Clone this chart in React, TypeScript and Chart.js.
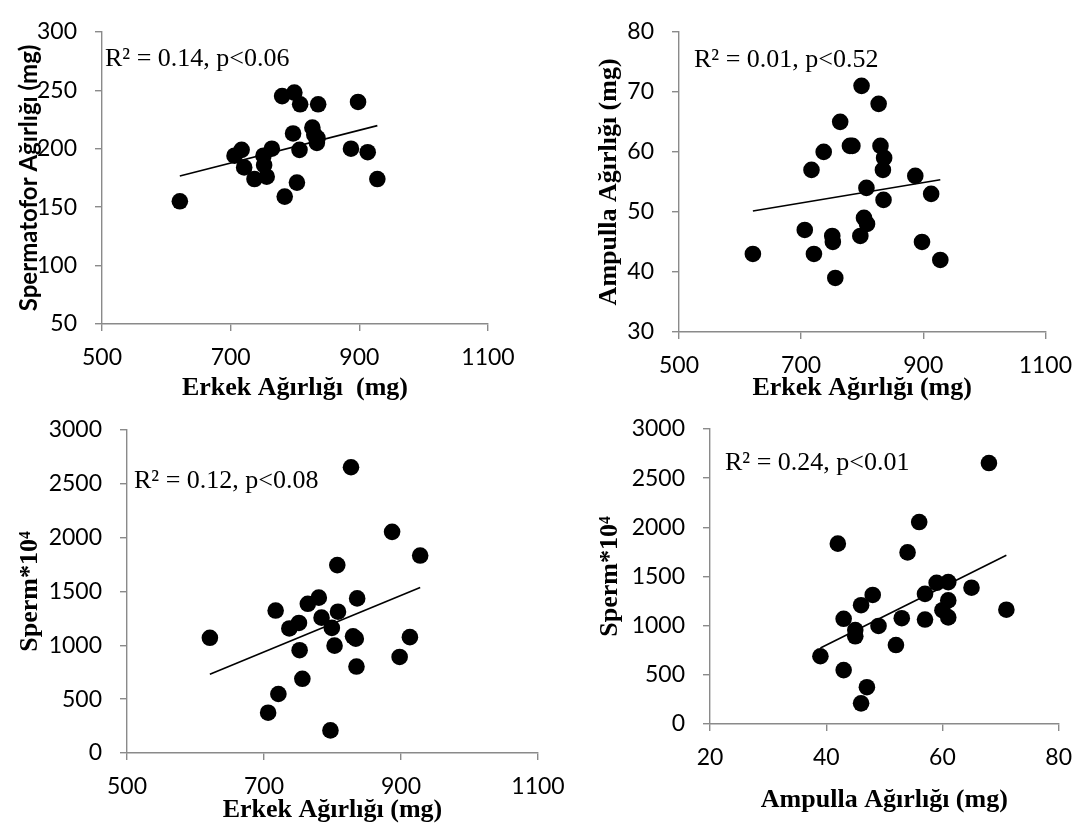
import { useEffect, useRef } from "react";
import { Chart, registerables } from "chart.js";

Chart.register(...registerables);

const W = 1085;
const H = 836;

// One entry per male, ordered by body weight
const erkekAgirligi = [
  621, 706, 717, 721, 737, 751, 752, 756, 764, 780, 784, 797, 799, 803, 807, 808, 827, 830, 834, 835, 836, 887, 898, 913, 928,
];
const spermatoforAgirligi = [
  155, 194, 199, 184, 174, 194, 186, 176, 200, 245, 159, 213, 248, 171, 199, 238, 218, 212, 205, 209, 238, 200, 240, 197, 174,
];
const ampullaAgirligi = [
  43, 47, 57, 43, 60, 46, 45, 39, 65, 61, 61, 46, 71, 49, 54, 48, 68, 61, 57, 52, 59, 56, 45, 53, 42,
];
const spermSayisi = [
  1070, 374, 1323, 548, 1157, 1208, 955, 689, 1386, 1443, 1257, 210, 1162, 997, 1745, 1312, 2654, 1084, 1062, 803, 1436, 2054, 892, 1076, 1834,
];

const notes = [
  "R\u00B2 = 0.14, p<0.06",
  "R\u00B2 = 0.01, p<0.52",
  "R\u00B2 = 0.12, p<0.08",
  "R\u00B2 = 0.24, p<0.01",
];

const erkekTicks = { min: 500, max: 1100, step: 200 };
const ampullaTicks = { min: 20, max: 80, step: 20 };
const spermatoforTicks = { min: 50, max: 300, step: 50 };
const ampullaYTicks = { min: 30, max: 80, step: 10 };
const spermTicks = { min: 0, max: 3000, step: 500 };

const AXIS = "#8a8a8a";
const TICK_FONT = { family: "Lato, 'Open Sans', sans-serif", size: 23 };
const SERIF = "'Liberation Serif', 'Times New Roman', serif";

type Area = { left: number; top: number; right: number; bottom: number };

type PanelSpec = {
  xs: number[];
  ys: number[];
  xt: { min: number; max: number; step: number };
  yt: { min: number; max: number; step: number };
  area: Area;
  xTitle: string;
  yTitle: string;
  yTitleFont: string;
  xTitleBaseline: number;
  yTitleBaseline: number;
  note: string;
  noteX: number;
  noteBaseline: number;
};

const panels: PanelSpec[] = [
  {
    xs: erkekAgirligi,
    ys: spermatoforAgirligi,
    xt: erkekTicks,
    yt: spermatoforTicks,
    area: { left: 102, top: 18, right: 488, bottom: 324 },
    xTitle: "Erkek Ağırlığı  (mg)",
    yTitle: "Spermatofor Ağırlığı (mg)",
    yTitleFont: "bold 24px Lato, 'Open Sans', sans-serif",
    xTitleBaseline: 395,
    yTitleBaseline: 37,
    note: notes[0],
    noteX: 105,
    noteBaseline: 66,
  },
  {
    xs: erkekAgirligi,
    ys: ampullaAgirligi,
    xt: erkekTicks,
    yt: ampullaYTicks,
    area: { left: 679, top: 15, right: 1048, bottom: 332 },
    xTitle: "Erkek Ağırlığı (mg)",
    yTitle: "Ampulla Ağırlığı (mg)",
    yTitleFont: `bold 26px ${SERIF}`,
    xTitleBaseline: 395,
    yTitleBaseline: 616,
    note: notes[1],
    noteX: 694,
    noteBaseline: 67,
  },
  {
    xs: erkekAgirligi,
    ys: spermSayisi,
    xt: erkekTicks,
    yt: spermTicks,
    area: { left: 127, top: 430, right: 538, bottom: 753 },
    xTitle: "Erkek Ağırlığı (mg)",
    yTitle: "Sperm*10\u2074",
    yTitleFont: `bold 26px ${SERIF}`,
    xTitleBaseline: 817,
    yTitleBaseline: 37,
    note: notes[2],
    noteX: 134,
    noteBaseline: 488,
  },
  {
    xs: ampullaAgirligi,
    ys: spermSayisi,
    xt: ampullaTicks,
    yt: spermTicks,
    area: { left: 710, top: 429, right: 1063, bottom: 724 },
    xTitle: "Ampulla Ağırlığı (mg)",
    yTitle: "Sperm*10\u2074",
    yTitleFont: `bold 26px ${SERIF}`,
    xTitleBaseline: 807,
    yTitleBaseline: 617,
    note: notes[3],
    noteX: 725,
    noteBaseline: 470,
  },
];

// Least-squares line drawn across the observed x range
function trendLine(xs: number[], ys: number[]) {
  const n = xs.length;
  const mx = xs.reduce((a, b) => a + b, 0) / n;
  const my = ys.reduce((a, b) => a + b, 0) / n;
  let sxy = 0;
  let sxx = 0;
  for (let i = 0; i < n; i++) {
    sxy += (xs[i] - mx) * (ys[i] - my);
    sxx += (xs[i] - mx) * (xs[i] - mx);
  }
  const b = sxy / sxx;
  const a = my - b * mx;
  const x0 = Math.min(...xs);
  const x1 = Math.max(...xs);
  return [
    { x: x0, y: a + b * x0 },
    { x: x1, y: a + b * x1 },
  ];
}

const plainNumber = (v: number | string) => String(v);

const panelText = {
  id: "panelText",
  beforeDatasetsDraw(chart: any, _args: any, opts: any) {
    const ctx = chart.ctx as CanvasRenderingContext2D;
    ctx.save();
    ctx.fillStyle = "#000";
    ctx.font = `26px ${SERIF}`;
    ctx.textAlign = "left";
    ctx.textBaseline = "alphabetic";
    ctx.fillText(opts.note, opts.noteX, opts.noteBaseline);
    ctx.restore();
  },
  afterDraw(chart: any, _args: any, opts: any) {
    const ctx = chart.ctx as CanvasRenderingContext2D;
    const ca = chart.chartArea;
    ctx.save();
    ctx.fillStyle = "#000";
    ctx.textAlign = "center";
    ctx.textBaseline = "alphabetic";
    ctx.font = `bold 26px ${SERIF}`;
    ctx.fillText(opts.xTitle, (ca.left + ca.right) / 2, opts.xTitleBaseline);
    ctx.translate(opts.yTitleBaseline, (ca.top + ca.bottom) / 2);
    ctx.rotate(-Math.PI / 2);
    ctx.font = opts.yTitleFont;
    ctx.fillText(opts.yTitle, 0, 0);
    ctx.restore();
  },
};

function ScatterPanel({ spec }: { spec: PanelSpec }) {
  const ref = useRef<HTMLCanvasElement>(null);

  useEffect(() => {
    if (!ref.current) return;
    const { area } = spec;
    const points = spec.xs.map((x, i) => ({ x, y: spec.ys[i] }));
    const chart = new Chart(ref.current, {
      type: "scatter",
      data: {
        datasets: [
          {
            data: points,
            backgroundColor: "#000",
            borderWidth: 0,
            pointRadius: 8.3,
            pointHoverRadius: 8.3,
            order: 1,
          },
          {
            data: trendLine(spec.xs, spec.ys),
            showLine: true,
            borderColor: "#000",
            borderWidth: 1.6,
            pointRadius: 0,
            fill: false,
            order: 2,
          } as any,
        ],
      },
      options: {
        animation: false,
        responsive: false,
        devicePixelRatio: 1,
        events: [],
        layout: {
          padding: { left: 0, top: area.top, right: W - area.right, bottom: 0 },
        },
        plugins: {
          legend: { display: false },
          tooltip: { enabled: false },
          panelText: {
            note: spec.note,
            noteX: spec.noteX,
            noteBaseline: spec.noteBaseline,
            xTitle: spec.xTitle,
            yTitle: spec.yTitle,
            yTitleFont: spec.yTitleFont,
            xTitleBaseline: spec.xTitleBaseline,
            yTitleBaseline: spec.yTitleBaseline,
          },
        } as any,
        scales: {
          x: {
            type: "linear",
            min: spec.xt.min,
            max: spec.xt.max,
            ticks: {
              stepSize: spec.xt.step,
              font: TICK_FONT,
              color: "#000",
              padding: 13,
              maxRotation: 0,
              autoSkip: false,
              callback: plainNumber,
            },
            grid: {
              drawOnChartArea: false,
              drawTicks: true,
              tickLength: 7,
              color: AXIS,
              lineWidth: 1.4,
            },
            border: { display: true, color: AXIS, width: 1.4 },
            afterFit(scale: any) {
              scale.height = H - area.bottom;
            },
          },
          y: {
            type: "linear",
            min: spec.yt.min,
            max: spec.yt.max,
            ticks: {
              stepSize: spec.yt.step,
              font: TICK_FONT,
              color: "#000",
              padding: 18,
              autoSkip: false,
              callback: plainNumber,
            },
            grid: {
              drawOnChartArea: false,
              drawTicks: true,
              tickLength: 7,
              color: AXIS,
              lineWidth: 1.4,
            },
            border: { display: true, color: AXIS, width: 1.4 },
            afterFit(scale: any) {
              scale.width = area.left;
            },
          },
        },
      },
      plugins: [panelText],
    });
    return () => chart.destroy();
  }, [spec]);

  return (
    <canvas
      ref={ref}
      width={W}
      height={H}
      style={{ position: "absolute", left: 0, top: 0, width: W, height: H }}
    />
  );
}

export default function App() {
  return (
    <div
      style={{
        position: "absolute",
        left: 0,
        top: 0,
        width: W,
        height: H,
        background: "#fff",
        overflow: "hidden",
      }}
    >
      {panels.map((p, i) => (
        <ScatterPanel key={i} spec={p} />
      ))}
    </div>
  );
}
